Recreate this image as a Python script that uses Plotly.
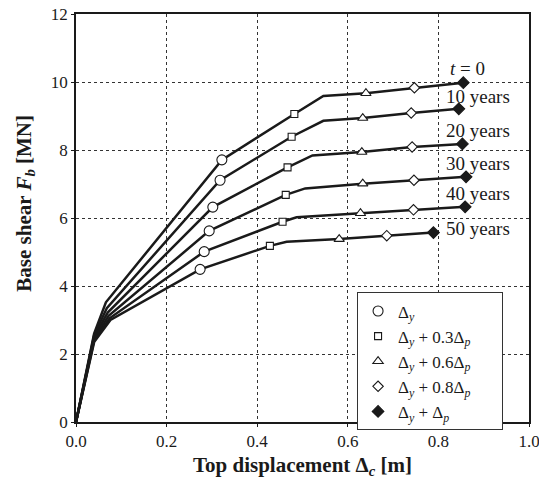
import plotly.graph_objects as go

# ---- data ----
curve_names = ["<i>t</i> = 0", "10 years", "20 years", "30 years", "40 years", "50 years"]

# each curve: origin, two early kinks, Δy, Δy+0.3Δp, plateau kink, Δy+0.6Δp, Δy+0.8Δp, Δy+Δp
curve_x = [
    [0.0, 0.040, 0.066, 0.322, 0.482, 0.546, 0.640, 0.747, 0.855],
    [0.0, 0.040, 0.068, 0.318, 0.476, 0.546, 0.633, 0.740, 0.845],
    [0.0, 0.040, 0.070, 0.302, 0.467, 0.522, 0.631, 0.742, 0.853],
    [0.0, 0.040, 0.072, 0.294, 0.463, 0.506, 0.633, 0.746, 0.861],
    [0.0, 0.040, 0.074, 0.283, 0.456, 0.487, 0.628, 0.745, 0.859],
    [0.0, 0.040, 0.076, 0.274, 0.428, 0.465, 0.581, 0.686, 0.789],
]
curve_y = [
    [0.0, 2.60, 3.52, 7.71, 9.06, 9.59, 9.67, 9.83, 9.98],
    [0.0, 2.55, 3.35, 7.11, 8.39, 8.86, 8.94, 9.09, 9.21],
    [0.0, 2.50, 3.22, 6.32, 7.49, 7.84, 7.94, 8.09, 8.18],
    [0.0, 2.45, 3.12, 5.62, 6.68, 6.87, 7.01, 7.11, 7.21],
    [0.0, 2.40, 3.05, 5.01, 5.89, 6.02, 6.14, 6.24, 6.33],
    [0.0, 2.35, 3.00, 4.49, 5.18, 5.30, 5.38, 5.48, 5.57],
]
label_x = [0.865, 0.888, 0.888, 0.888, 0.888, 0.888]
label_y = [10.41, 9.56, 8.57, 7.59, 6.73, 5.70]

marker_names = ["Δ<sub><i>y</i></sub>",
                "Δ<sub><i>y</i></sub> + 0.3Δ<sub><i>p</i></sub>",
                "Δ<sub><i>y</i></sub> + 0.6Δ<sub><i>p</i></sub>",
                "Δ<sub><i>y</i></sub> + 0.8Δ<sub><i>p</i></sub>",
                "Δ<sub><i>y</i></sub> + Δ<sub><i>p</i></sub>"]
marker_index = [3, 4, 6, 7, 8]
marker_symbols = ["circle", "square", "triangle-up", "diamond", "diamond"]
marker_filled = [False, False, False, False, True]
marker_sizes = [10, 7, 9, 8, 9]

x_ticks = [0.0, 0.2, 0.4, 0.6, 0.8, 1.0]
y_ticks = [0, 2, 4, 6, 8, 10, 12]

FONT = "Liberation Serif"
INK = "#1a1a1a"

fig = go.Figure()
for cx, cy in zip(curve_x, curve_y):
    fig.add_trace(go.Scatter(x=cx, y=cy, mode="lines", showlegend=False,
                             line=dict(color=INK, width=2.5), hoverinfo="skip"))

for name, idx, sym, filled, sz in zip(marker_names, marker_index, marker_symbols,
                                      marker_filled, marker_sizes):
    mx = [cx[idx] for cx in curve_x]
    my = [cy[idx] for cy in curve_y]
    fig.add_trace(go.Scatter(
        x=mx, y=my, mode="markers", name=name + "\u2003\u2002",
        marker=dict(symbol=sym, size=sz,
                    color=INK if filled else "white",
                    line=dict(color=INK, width=1.1)),
    ))

for t, lx, ly in zip(curve_names, label_x, label_y):
    fig.add_annotation(x=lx, y=ly, text=t, showarrow=False,
                       font=dict(family=FONT, size=19, color=INK))

fig.add_annotation(xref="paper", yref="paper", x=0.5, y=-0.07, yanchor="top",
                   text="<b>Top displacement Δ<sub><i>c</i></sub> [m]</b>", showarrow=False,
                   font=dict(family=FONT, size=21, color=INK))
fig.add_annotation(xref="paper", yref="paper", x=-0.113, y=0.537, xanchor="center",
                   yanchor="middle", textangle=-90,
                   text="<b>Base shear <i>F<sub>b</sub></i> [MN]</b>", showarrow=False,
                   font=dict(family=FONT, size=21, color=INK))

fig.update_layout(
    width=539, height=481,
    margin=dict(l=76, r=10, t=14, b=59, autoexpand=False),
    paper_bgcolor="white", plot_bgcolor="white",
    font=dict(family=FONT, size=17, color=INK),
    legend=dict(x=0.62, y=0.318, xanchor="left", yanchor="top",
                bordercolor="#333333", borderwidth=1.2, bgcolor="white",
                font=dict(family=FONT, size=17, color=INK), tracegroupgap=0,
                itemwidth=30),
    xaxis=dict(range=[0, 1.0], tickvals=x_ticks, ticktext=[f"{v:.1f}" for v in x_ticks],
               tickfont=dict(family=FONT, size=17, color=INK), ticklabeloverflow="allow",
               showgrid=True, gridcolor="#333333", griddash="dot", gridwidth=1,
               showline=True, linecolor=INK, linewidth=1.5, mirror=True,
               ticks="outside", ticklen=3, tickcolor=INK, zeroline=False,
               automargin=False),
    yaxis=dict(range=[0, 12], tickvals=y_ticks,
               tickfont=dict(family=FONT, size=17, color=INK), ticklabeloverflow="allow",
               showgrid=True, gridcolor="#333333", griddash="dot", gridwidth=1,
               showline=True, linecolor=INK, linewidth=1.5, mirror=True,
               ticks="outside", ticklen=3, tickcolor=INK, zeroline=False,
               automargin=False),
)

fig.write_html("out.html", config={"displayModeBar": False},
               post_script="document.body.style.margin='0';document.body.style.overflow='hidden';")
